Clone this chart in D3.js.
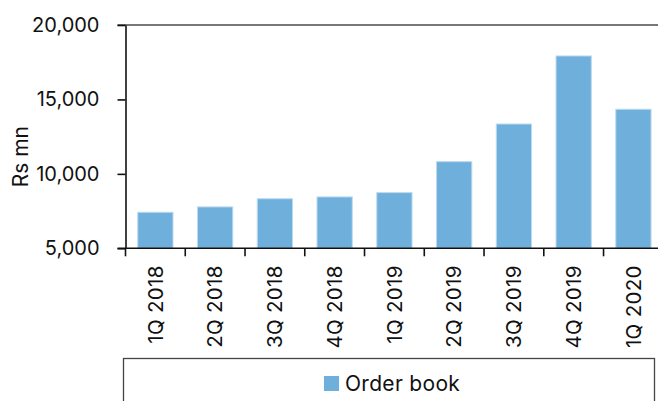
<!DOCTYPE html>
<html>
<head>
<meta charset="utf-8">
<script src="https://cdn.jsdelivr.net/npm/d3@7/dist/d3.min.js"></script>
<style>
  html, body { margin: 0; padding: 0; background: #fff; }
  svg { display: block; font-family: "Inter", "Open Sans", sans-serif; }
</style>
</head>
<body>
<svg id="chart" width="658" height="401"></svg>
<script>
// Quarterly order book, Rs mn
const quarters = ["1Q 2018", "2Q 2018", "3Q 2018", "4Q 2018", "1Q 2019", "2Q 2019", "3Q 2019", "4Q 2019", "1Q 2020"];
const orderBook = [7420, 7780, 8330, 8450, 8740, 10820, 13350, 17920, 14340];
const yTicks = [5000, 10000, 15000, 20000];
const seriesName = "Order book";
const yLabel = "Rs mn";

const svg = d3.select("#chart");
const plotLeft = 125.5, plotRight = 663.3, plotTop = 25, plotBottom = 248.3;

const x = d3.scaleBand().domain(quarters).range([plotLeft, plotRight])
  .paddingInner(0.41).paddingOuter(0.205);
const y = d3.scaleLinear().domain([5000, 20000]).range([plotBottom, plotTop]);

const barColor = "#6eafdb";

// top frame line
svg.append("line")
  .attr("x1", plotLeft - 8).attr("x2", 658)
  .attr("y1", y(20000)).attr("y2", y(20000))
  .attr("stroke", "#4a4a4a").attr("stroke-width", 1.6);

// bars
svg.append("g").selectAll("rect").data(orderBook).join("rect")
  .attr("x", (d, i) => x(quarters[i]))
  .attr("width", x.bandwidth())
  .attr("y", d => y(d))
  .attr("height", d => y(5000) - y(d))
  .attr("fill", barColor)
  .attr("stroke", "#bcd9ef").attr("stroke-width", 1);

// y axis
const yAxis = svg.append("g").attr("transform", `translate(${plotLeft},0)`)
  .call(d3.axisLeft(y).tickValues(yTicks).tickFormat(d3.format(",")).tickSize(8).tickSizeOuter(0).tickPadding(18));
yAxis.select(".domain").attr("stroke", "#111").attr("stroke-width", 1.6);
yAxis.selectAll(".tick line").attr("stroke", "#111").attr("stroke-width", 1.6);
yAxis.selectAll(".tick text").attr("font-size", 20).attr("fill", "#111")
  .attr("font-family", "Inter, 'Open Sans', sans-serif");

// x axis: labels centred on bands, ticks at band boundaries
const xAxis = svg.append("g").attr("transform", `translate(0,${plotBottom})`)
  .call(d3.axisBottom(x).tickSize(0).tickSizeOuter(0).tickPadding(0));
xAxis.select(".domain").remove();
xAxis.selectAll(".tick text")
  .attr("transform", "rotate(-90)")
  .attr("text-anchor", "end")
  .attr("x", -17).attr("y", 0).attr("dy", "0.35em")
  .attr("font-size", 20.5).attr("letter-spacing", 0.3).attr("fill", "#111")
  .attr("font-family", "Inter, 'Open Sans', sans-serif");

svg.append("line")
  .attr("x1", plotLeft - 8).attr("x2", 658)
  .attr("y1", plotBottom).attr("y2", plotBottom)
  .attr("stroke", "#111").attr("stroke-width", 1.6);

const bounds = d3.range(quarters.length + 1).map(i => plotLeft + i * x.step());
svg.append("g").selectAll("line").data(bounds).join("line")
  .attr("x1", d => d).attr("x2", d => d)
  .attr("y1", plotBottom).attr("y2", plotBottom + 8)
  .attr("stroke", "#111").attr("stroke-width", 1.6);

// y axis title
svg.append("text")
  .attr("transform", `translate(21,${(plotTop + plotBottom) / 2 + 20}) rotate(-90)`)
  .attr("text-anchor", "middle").attr("dy", "0.35em")
  .attr("font-size", 21).attr("fill", "#111")
  .text(yLabel);

// legend
svg.append("rect")
  .attr("x", 123.5).attr("y", 358.5).attr("width", 531).attr("height", 60)
  .attr("fill", "none").attr("stroke", "#444").attr("stroke-width", 1.3);
svg.append("rect")
  .attr("x", 324).attr("y", 376).attr("width", 15).attr("height", 15)
  .attr("fill", barColor);
svg.append("text")
  .attr("x", 345).attr("y", 383.5).attr("dy", "0.35em")
  .attr("font-size", 21).attr("letter-spacing", 0.3).attr("fill", "#111")
  .text(seriesName);
</script>
</body>
</html>
